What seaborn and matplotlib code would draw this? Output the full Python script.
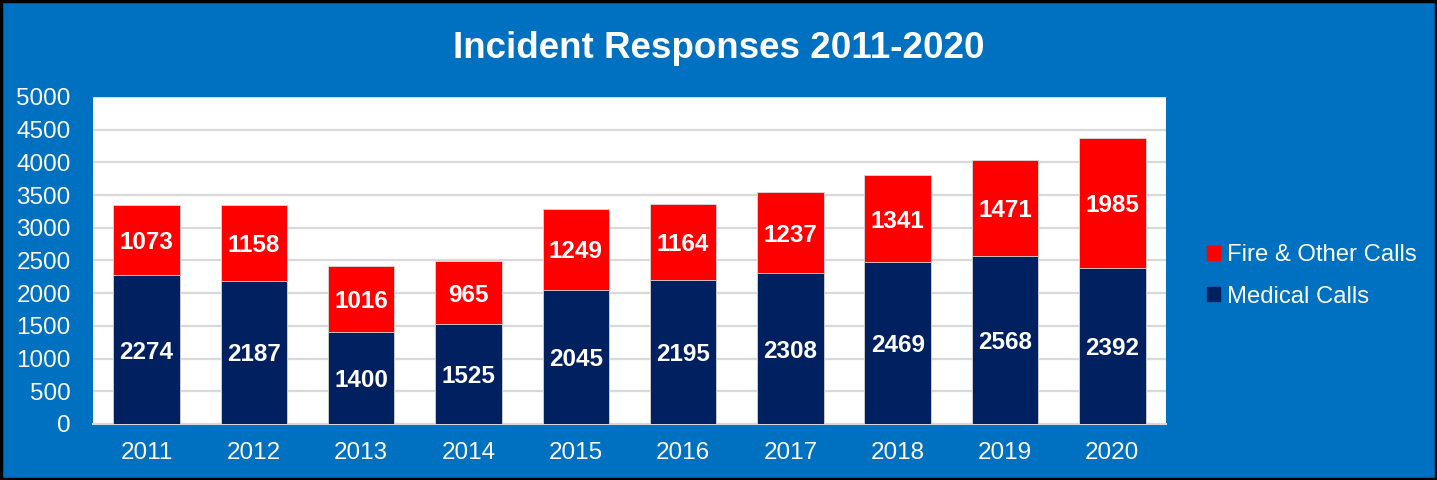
import matplotlib
matplotlib.use("Agg")
import matplotlib.pyplot as plt
import matplotlib.patches as mpatches
import numpy as np
import pandas as pd
import seaborn as sns

# values
years = ["2011", "2012", "2013", "2014", "2015", "2016", "2017", "2018", "2019", "2020"]
medical = [2274, 2187, 1400, 1525, 2045, 2195, 2308, 2469, 2568, 2392]
fire = [1073, 1158, 1016, 965, 1249, 1164, 1237, 1341, 1471, 1985]

blue_bg = "#0070C0"
navy = "#002060"
red = "#FF0000"
grid = "#D9D9D9"

df = pd.DataFrame({"year": years, "medical": medical, "fire": fire})
df["total"] = df["medical"] + df["fire"]

sns.set_style("white")
plt.rcParams["font.family"] = ["Liberation Sans", "DejaVu Sans"]

fig = plt.figure(figsize=(14.37, 4.8), dpi=100, facecolor=blue_bg)
ax = fig.add_axes([0.0647, 0.1167, 0.7467, 0.6813])
ax.set_facecolor("white")

# stacked bars: full height in red, medical part over it in navy
sns.barplot(data=df, x="year", y="total", color=red, width=0.62, saturation=1,
            edgecolor=grid, linewidth=0.6, ax=ax, zorder=2)
sns.barplot(data=df, x="year", y="medical", color=navy, width=0.62, saturation=1,
            edgecolor=grid, linewidth=0.6, ax=ax, zorder=3)

for i, row in df.iterrows():
    ax.text(i, row["medical"] / 2, str(row["medical"]), ha="center", va="center_baseline",
            color="white", fontsize=17.5, fontweight="bold", zorder=4)
    ax.text(i, row["medical"] + row["fire"] / 2, str(row["fire"]), ha="center",
            va="center_baseline", color="white", fontsize=17.5, fontweight="bold", zorder=4)

ax.set_ylim(0, 5000)
ax.set_xlim(-0.5, len(years) - 0.5)
ax.set_yticks(np.arange(0, 5001, 500))
ax.yaxis.grid(True, color=grid, linewidth=1.6, zorder=0)
ax.set_axisbelow(True)
ax.set_xlabel("")
ax.set_ylabel("")

for s in ["top", "right", "left"]:
    ax.spines[s].set_visible(False)
ax.spines["bottom"].set_color(grid)
ax.spines["bottom"].set_linewidth(1.5)

ax.tick_params(axis="x", which="major", length=0, colors="white", labelsize=17.5, pad=13)
ax.tick_params(axis="y", length=0, colors="white", labelsize=17.5, pad=16)
ax.set_xticks(np.arange(-0.5, len(years)), minor=True)
ax.tick_params(axis="x", which="minor", length=7, width=1.5, color=grid, direction="out")

fig.text(0.5, 0.898, "Incident Responses 2011-2020", ha="center", va="center",
         color="white", fontsize=26.5, fontweight="bold")

handles = [mpatches.Patch(color=red, label="Fire & Other Calls"),
           mpatches.Patch(color=navy, label="Medical Calls")]
leg = fig.legend(handles=handles, loc="center left", bbox_to_anchor=(0.825, 0.425),
                 frameon=False, fontsize=17.2, handlelength=0.55, handleheight=0.55,
                 handletextpad=0.3, labelspacing=0.8)
for t in leg.get_texts():
    t.set_color("white")

# black frame round the whole picture
fig.patches.append(mpatches.Rectangle((0.001, 0.002), 0.998, 0.996, transform=fig.transFigure,
                                      fill=False, edgecolor="black", linewidth=2.5))

fig.savefig("out.png", dpi=100, facecolor=blue_bg)
